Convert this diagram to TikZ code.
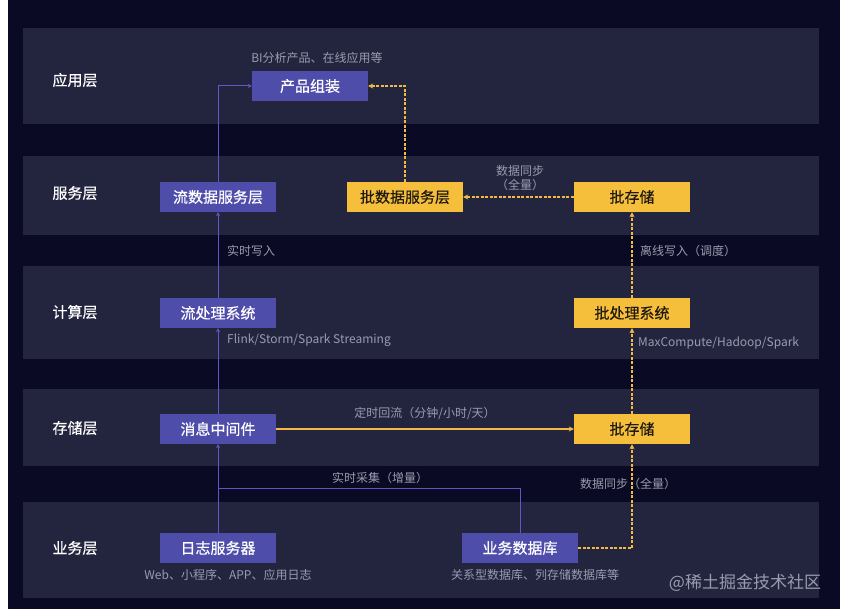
\documentclass[tikz,border=0pt]{standalone}
\usepackage{fontspec}
\setmainfont{Noto Sans CJK SC}
\newfontfamily\cjkmed[FakeBold=0.5]{Noto Sans CJK SC}
\usetikzlibrary{arrows.meta}
\definecolor{bgcol}{HTML}{0A0A24}
\definecolor{bandcol}{HTML}{23253F}
\definecolor{purp}{HTML}{4F4DAA}
\definecolor{purpline}{HTML}{5B59C4}
\definecolor{orng}{HTML}{F5BE3B}
\definecolor{orline}{HTML}{F2BA45}
\definecolor{notecol}{HTML}{9A9BAE}
\definecolor{darktext}{HTML}{1E1A10}
\tikzset{
  band/.style={fill=bandcol, draw=none},
  boxbase/.style={minimum width=116pt, minimum height=30pt, inner sep=0pt, font=\cjkmed\fontsize{15}{18}\selectfont},
  pbox/.style={boxbase, fill=purp, text=white},
  obox/.style={boxbase, fill=orng, text=darktext},
  layerlbl/.style={text=white, font=\cjkmed\fontsize{15}{18}\selectfont},
  notelbl/.style={text=notecol, font=\fontsize{12}{14}\selectfont, inner sep=1pt},
  pline/.style={draw=purpline, line width=1pt, -{Stealth[length=4pt,width=4pt]}},
  pplain/.style={draw=purpline, line width=1pt},
  oline/.style={draw=orline, line width=1.2pt, dash pattern=on 3pt off 1.5pt, -{Stealth[length=5pt,width=5pt]}},
  osolid/.style={draw=orline, line width=1.2pt, -{Stealth[length=5pt,width=5pt]}},
}
\begin{document}
\begin{tikzpicture}[x=1pt,y=-1pt]
\useasboundingbox (0,0) rectangle (844,615);
\fill[white] (0,0) rectangle (844,615);
\fill[bgcol] (8,0) rectangle (840,609);
% bands
\path[band] (23,28) rectangle (819,124);
\path[band] (23,156) rectangle (819,235);
\path[band] (23,266) rectangle (819,359);
\path[band] (23,389) rectangle (819,466);
\path[band] (23,502) rectangle (819,598);
% layer labels
\node[layerlbl] (l1) at (75,80) {应用层};
\node[layerlbl] (l2) at (75,193) {服务层};
\node[layerlbl] (l3) at (75,312) {计算层};
\node[layerlbl] (l4) at (75,428) {存储层};
\node[layerlbl] (l5) at (75,548) {业务层};
% boxes
\node[pbox] (chanpin) at (310,86) {产品组装};
\node[pbox] (liufuwu) at (218,197) {流数据服务层};
\node[obox] (pifuwu) at (405,197) {批数据服务层};
\node[obox] (picun1) at (632,197) {批存储};
\node[pbox] (liuchuli) at (218,313) {流处理系统};
\node[obox] (pichuli) at (632,313) {批处理系统};
\node[pbox] (xiaoxi) at (218,429) {消息中间件};
\node[obox] (picun2) at (632,429) {批存储};
\node[pbox] (rizhi) at (218,548) {日志服务器};
\node[pbox] (yewu) at (520,548) {业务数据库};
\coordinate (junc) at (218,488);
% notes
\node[notelbl] (n1) at (317,58) {BI分析产品、在线应用等};
\node[notelbl, align=center] (n2) at (520,178) {数据同步\\（全量）};
\node[notelbl] (n3) at (251,251) {实时写入};
\node[notelbl] (n4) at (688,251) {离线写入（调度）};
\node[notelbl, anchor=west] (n5) at (226,340) {Flink/Storm/Spark Streaming};
\node[notelbl, anchor=west] (n6) at (637,343) {MaxCompute/Hadoop/Spark};
\node[notelbl] (n7) at (425,413) {定时回流（分钟/小时/天）};
\node[notelbl] (n8) at (380,478) {实时采集（增量）};
\node[notelbl] (n9) at (628,484) {数据同步（全量）};
\node[notelbl] (n10) at (228,575) {Web、小程序、APP、应用日志};
\node[notelbl] (n11) at (535,575) {关系型数据库、列存储数据库等};
\node[text=notecol, font=\fontsize{17}{20}\selectfont] (wm) at (745,583) {@稀土掘金技术社区};
% purple connectors
\draw[pplain] (yewu.north) |- (junc);
\draw[pline] (rizhi.north) -- (xiaoxi.south);
\draw[pline] (xiaoxi.north) -- (liuchuli.south);
\draw[pline] (liuchuli.north) -- (liufuwu.south);
\draw[pline] (liufuwu.north) |- (chanpin.west);
% orange connectors
\draw[osolid] (xiaoxi.east) -- (picun2.west);
\draw[oline] (yewu.east) -| (picun2.south);
\draw[oline] (picun2.north) -- (pichuli.south);
\draw[oline] (pichuli.north) -- (picun1.south);
\draw[oline] (picun1.west) -- (pifuwu.east);
\draw[oline] (pifuwu.north) |- (chanpin.east);
\end{tikzpicture}
\end{document}
